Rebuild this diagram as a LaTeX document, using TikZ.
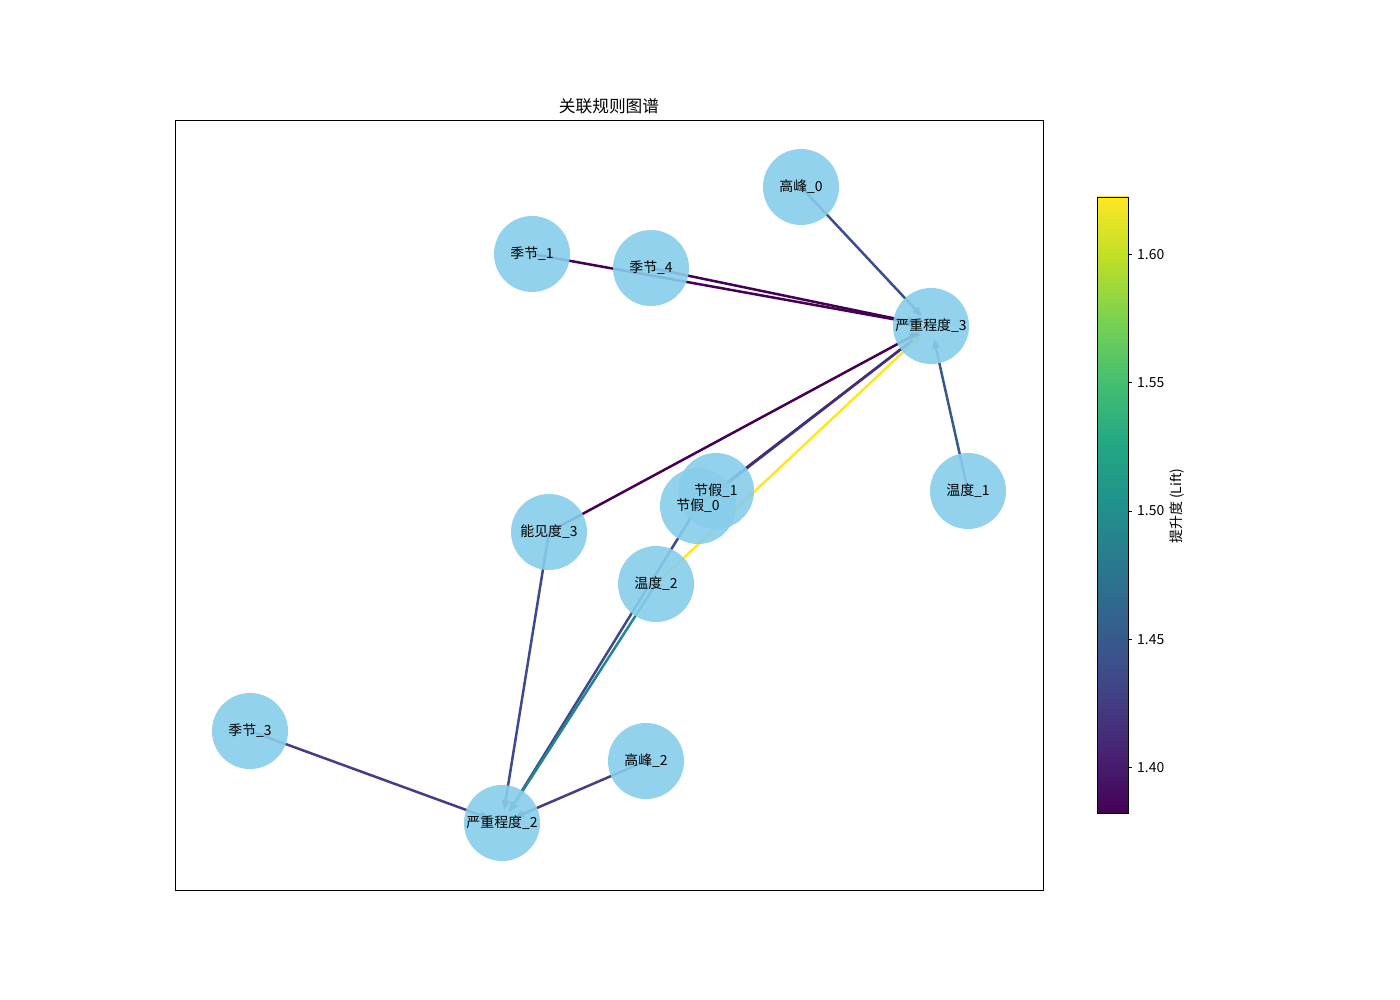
\documentclass[tikz,border=0pt]{standalone}
\usepackage{fontspec}
\setmainfont{Noto Sans CJK SC}
\usetikzlibrary{arrows.meta}
\definecolor{sky}{HTML}{87CEEB}
\definecolor{va}{HTML}{440154}
\definecolor{vb}{HTML}{482475}
\definecolor{vc}{HTML}{414487}
\definecolor{vd}{HTML}{355F8D}
\definecolor{ve}{HTML}{2A788E}
\definecolor{vf}{HTML}{21918C}
\definecolor{vg}{HTML}{22A884}
\definecolor{vh}{HTML}{44BF70}
\definecolor{vi}{HTML}{7AD151}
\definecolor{vj}{HTML}{BDDF26}
\definecolor{vk}{HTML}{FDE725}
\definecolor{eA}{HTML}{3D4E8A}
\definecolor{eB}{HTML}{472C7A}
\definecolor{eC}{HTML}{3E4A89}
\definecolor{eD}{HTML}{38598C}
\definecolor{eE}{HTML}{24868E}
\definecolor{eF}{HTML}{433E85}
\pgfdeclareverticalshading{viridis}{100bp}{color(0bp)=(va); color(25bp)=(va); color(30bp)=(vb); color(35bp)=(vc); color(40bp)=(vd); color(45bp)=(ve); color(50bp)=(vf); color(55bp)=(vg); color(60bp)=(vh); color(65bp)=(vi); color(70bp)=(vj); color(75bp)=(vk); color(100bp)=(vk)}
\pgfdeclarelayer{bg}
\pgfdeclarelayer{fg}
\pgfsetlayers{bg,main,fg}
\begin{document}
\begin{tikzpicture}[x=1pt,y=-1pt,
  vnode/.style={circle, minimum size=76pt, inner sep=0pt, fill=sky, fill opacity=0.9},
  edge/.style={line width=2.5pt, shorten >=13pt, -{Triangle[length=10pt,width=7.5pt]}},
  lbl/.style={font=\fontsize{13.9}{16}\selectfont, inner sep=0pt}]
\useasboundingbox (0,0) rectangle (1400,1000);
\begin{pgfonlayer}{bg}
\fill[white] (0,0) rectangle (1400,1000);
\end{pgfonlayer}
% axes frame and title
\draw[line width=0.8pt] (175,120) rectangle (1043,890);
\node[font=\fontsize{16.7}{19}\selectfont, inner sep=0pt] (title) at (609,106) {关联规则图谱};
% nodes
\node[vnode] (g0) at (801,187) {};
\node[vnode] (j1) at (532,254) {};
\node[vnode] (j4) at (651,268) {};
\node[vnode] (s3) at (931,326) {};
\node[vnode] (w1) at (968,491) {};
\node[vnode] (h1) at (716,491) {};
\node[vnode] (h0) at (698,506) {};
\node[vnode] (n3) at (549,532) {};
\node[vnode] (w2) at (656,584) {};
\node[vnode] (j3) at (250,731) {};
\node[vnode] (g2) at (646,761) {};
\node[vnode] (s2) at (502,823) {};
% labels on top
\begin{pgfonlayer}{fg}
\node[lbl] (g0l) at (g0) {高峰\_0};
\node[lbl] (j1l) at (j1) {季节\_1};
\node[lbl] (j4l) at (j4) {季节\_4};
\node[lbl] (s3l) at (s3) {严重程度\_3};
\node[lbl] (w1l) at (w1) {温度\_1};
\node[lbl] (h1l) at (h1) {节假\_1};
\node[lbl] (h0l) at (h0) {节假\_0};
\node[lbl] (n3l) at (n3) {能见度\_3};
\node[lbl] (w2l) at (w2) {温度\_2};
\node[lbl] (j3l) at (j3) {季节\_3};
\node[lbl] (g2l) at (g2) {高峰\_2};
\node[lbl] (s2l) at (s2) {严重程度\_2};
\end{pgfonlayer}
% edges
\begin{pgfonlayer}{bg}
\draw[edge, eA] (g0.center) -- (s3.center);
\draw[edge, va] (j1.center) -- (s3.center);
\draw[edge, va] (j4.center) -- (s3.center);
\draw[edge, va] (n3.center) -- (s3.center);
\draw[edge, eC] (h0.center) -- (s3.center);
\draw[edge, eB] (h1.center) -- (s3.center);
\draw[edge, vk] (w2.center) -- (s3.center);
\draw[edge, eD] (w1.center) -- (s3.center);
\draw[edge, eC] (n3.center) -- (s2.center);
\draw[edge, eC] (h0.center) -- (s2.center);
\draw[edge, eE] (w2.center) -- (s2.center);
\draw[edge, eF] (j3.center) -- (s2.center);
\draw[edge, eF] (g2.center) -- (s2.center);
\end{pgfonlayer}
% colorbar
\shade[shading=viridis] (1097,197) rectangle (1128,813);
\draw[line width=0.8pt] (1097,197) rectangle (1128,813);
\foreach \yy/\tt in {254.6/1.60, 382.8/1.55, 511/1.50, 639.2/1.45, 767.4/1.40}{
  \draw[line width=0.8pt] (1128,\yy) -- (1132,\yy);
  \node[lbl, anchor=west] at (1137,\yy) {\tt};
}
\node[lbl, rotate=90] (cblabel) at (1177,506) {提升度 (Lift)};
\end{tikzpicture}
\end{document}
